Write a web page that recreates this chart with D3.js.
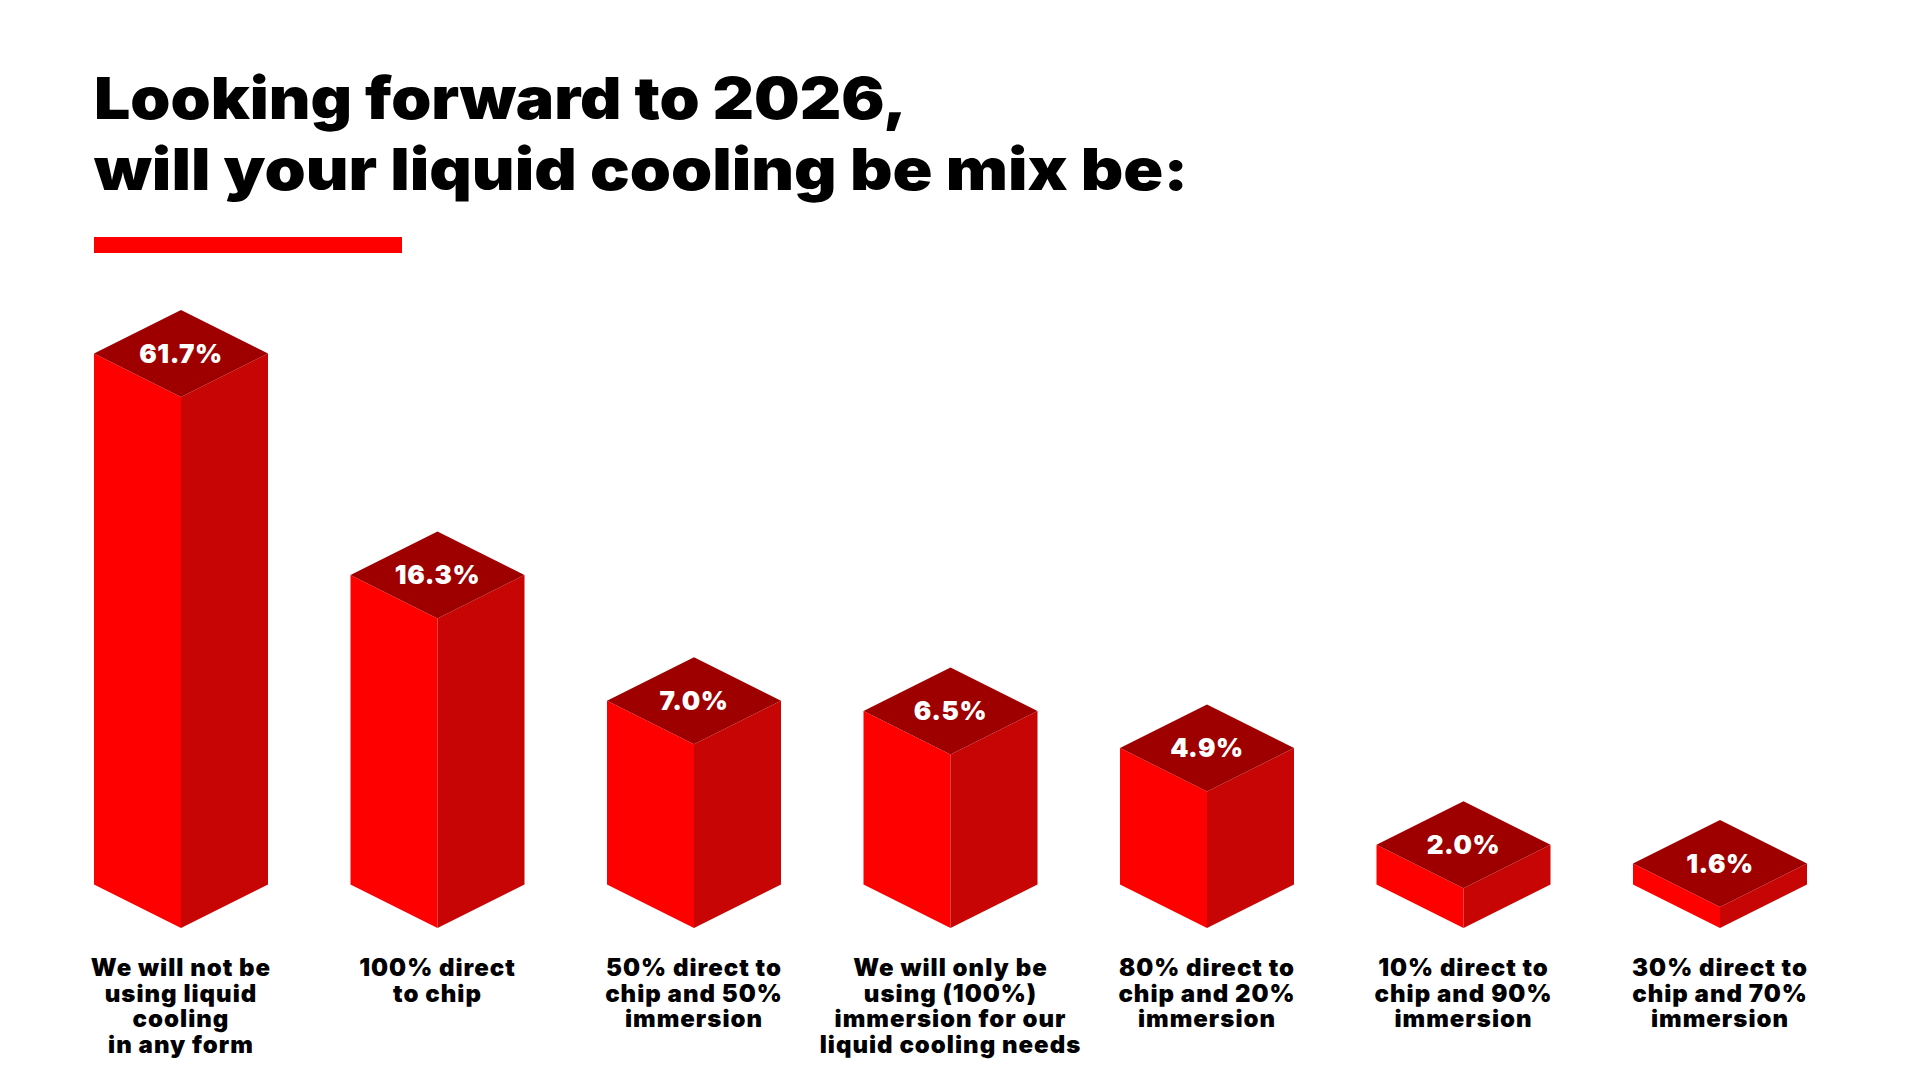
<!DOCTYPE html>
<html>
<head>
<meta charset="utf-8">
<script src="https://cdn.jsdelivr.net/npm/d3@7"></script>
<style>
  body { margin: 0; background: #fff; }
  svg { display: block; }
</style>
</head>
<body>
<div id="chart"></div>
<script>
// Data

let categories = [
  `We will not be\nusing liquid\ncooling\nin any form`,
  `100% direct\nto chip`,
  `50% direct to\nchip and 50%\nimmersion`,
  `We will only be\nusing (100%)\nimmersion for our\nliquid cooling needs`,
  `80% direct to\nchip and 20%\nimmersion`,
  `10% direct to\nchip and 90%\nimmersion`,
  `30% direct to\nchip and 70%\nimmersion`,
]
let values = [61.7, 16.3, 7.0, 6.5, 4.9, 2.0, 1.6]
let titleLines = [`Looking forward to 2026,`, `will your liquid cooling be mix be:`]

// Layout

let width = 1920
let height = 1080
let font = `Inter, "Noto Sans", sans-serif`
let baseY = 928      // bottom vertex of every box
let halfW = 87       // half width of a box
let dip = halfW / 2  // isometric drop of the edges

// Colors

let red = `#ff0000`
let redDark = `#c70505`
let redTop = `#9e0000`

let x = d3.scalePoint().domain(categories).range([181, 1720])
let h = d3.scaleSymlog().constant(2).domain(d3.extent(values)).range([21, 531])

let svg = d3.select(`#chart`)
  .append(`svg`)
  .attr(`width`, width)
  .attr(`height`, height)
  .style(`font-family`, font)

svg.append(`rect`).attr(`width`, width).attr(`height`, height).attr(`fill`, `#fff`)

// Title

let titleWidths = [813, 1094]
svg.append(`g`)
  .selectAll(`text`)
  .data(titleLines)
  .join(`text`)
  .attr(`x`, 94)
  .attr(`y`, (d, i) => 119 + i * 71)
  .attr(`font-size`, 58)
  .attr(`font-weight`, 900)
  .attr(`fill`, `#000`)
  .attr(`textLength`, (d, i) => titleWidths[i])
  .attr(`lengthAdjust`, `spacingAndGlyphs`)
  .text(d => d)

svg.append(`rect`)
  .attr(`x`, 94)
  .attr(`y`, 237)
  .attr(`width`, 308)
  .attr(`height`, 16)
  .attr(`fill`, red)

// Boxes

let bars = svg.append(`g`)
  .selectAll(`g`)
  .data(categories.map((c, i) => ({ c, v: values[i] })))
  .join(`g`)

let geo = d => {
  let cx = x(d.c)
  let front = baseY - h(d.v)
  let top = front - 2 * dip
  return { cx, front, top }
}

bars.append(`path`)
  .attr(`fill`, red)
  .attr(`d`, d => {
    let { cx, front } = geo(d)
    return `M${cx - halfW},${front - dip}L${cx},${front}L${cx},${baseY}L${cx - halfW},${baseY - dip}Z`
  })

bars.append(`path`)
  .attr(`fill`, redDark)
  .attr(`d`, d => {
    let { cx, front } = geo(d)
    return `M${cx},${front}L${cx + halfW},${front - dip}L${cx + halfW},${baseY - dip}L${cx},${baseY}Z`
  })

bars.append(`path`)
  .attr(`fill`, redTop)
  .attr(`d`, d => {
    let { cx, front, top } = geo(d)
    return `M${cx},${top}L${cx + halfW},${top + dip}L${cx},${front}L${cx - halfW},${top + dip}Z`
  })

bars.append(`text`)
  .attr(`x`, d => geo(d).cx)
  .attr(`y`, d => geo(d).front - dip)
  .attr(`dy`, `0.36em`)
  .attr(`text-anchor`, `middle`)
  .attr(`font-size`, 26)
  .attr(`font-weight`, 900)
  .attr(`letter-spacing`, 0.6)
  .attr(`fill`, `#fff`)
  .text(d => d.v.toFixed(1) + `%`)

// Category labels

let labels = bars.append(`text`)
  .attr(`text-anchor`, `middle`)
  .attr(`font-size`, 24)
  .attr(`font-weight`, 900)
  .attr(`letter-spacing`, 1)
  .attr(`fill`, `#000`)

labels.selectAll(`tspan`)
  .data(d => d.c.split(`\n`).map(line => ({ line, cx: x(d.c) })))
  .join(`tspan`)
  .attr(`x`, t => t.cx)
  .attr(`y`, (t, i) => 976 + i * 25.5)
  .text(t => t.line)
</script>
</body>
</html>
